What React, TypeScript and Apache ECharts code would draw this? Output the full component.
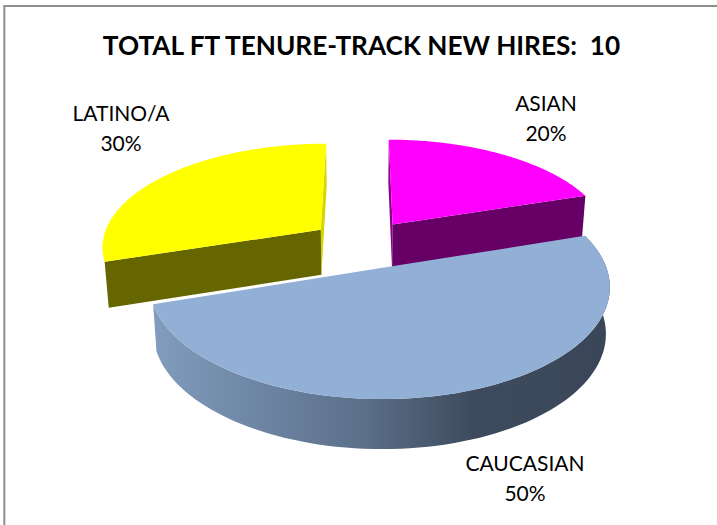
import React, { useEffect, useRef } from "react";
import * as echarts from "echarts";

const titleText = "TOTAL FT TENURE-TRACK NEW HIRES:  10";
const categories = ["ASIAN", "CAUCASIAN", "LATINO/A"];
const shares = [20, 50, 30];
const topColors = ["#ff00ff", "#92b0d6", "#ffff00"];
const faceColors = ["#660066", "#3c4a5c", "#666600"];
const edgeColors = ["#8a008a", "#3c4a5c", "#d6d600"];
const drawOrder = [0, 2, 1];
const labelCentres: number[][] = [
  [546, 117],
  [525, 477],
  [121, 127],
];

// projection of the tilted pie (perspective on the depth axis)
const PX = 362.5;
const P = 0.15;
const EXPLODE = 0.24;
const TOP = { a: 219.5, b: 103, y0: 244 };
const BOT = { a: 216, b: 106, y0: 289.5 };
const START_DEG = 90;

function project(X: number, Y: number, plane: { a: number; b: number; y0: number }) {
  const s = 1 / (1 - P * Y);
  return [PX + plane.a * X * s, plane.y0 + plane.b * Y * s];
}

const total = shares.reduce((a, b) => a + b, 0);
function sliceAngles(i: number) {
  let before = 0;
  for (let k = 0; k < i; k++) before += shares[k];
  const a0 = START_DEG - (before / total) * 360;
  const a1 = a0 - (shares[i] / total) * 360;
  return [a0, a1];
}

function buildSlice(i: number) {
  const [a0, a1] = sliceAngles(i);
  const mid = (((a0 + a1) / 2) * Math.PI) / 180;
  const ox = EXPLODE * Math.cos(mid);
  const oy = -EXPLODE * Math.sin(mid);
  const rim = (deg: number, plane: typeof TOP) => {
    const r = (deg * Math.PI) / 180;
    return project(ox + Math.cos(r), oy - Math.sin(r), plane);
  };
  const apex = (plane: typeof TOP) => project(ox, oy, plane);
  const steps = 90;
  const arc = (plane: typeof TOP) => {
    const pts: number[][] = [];
    for (let k = 0; k <= steps; k++) pts.push(rim(a0 + ((a1 - a0) * k) / steps, plane));
    return pts;
  };
  const topArc = arc(TOP);
  const botArc = arc(BOT);
  const children: any[] = [];
  const poly = (points: number[][], fill: any) => ({
    type: "polygon",
    shape: { points },
    style: { fill },
  });
  if (i === 1) {
    const wall = new echarts.graphic.LinearGradient(
      150,
      0,
      612,
      0,
      [
        { offset: 0, color: "#829dbf" },
        { offset: 0.22, color: "#6f87a6" },
        { offset: 0.47, color: "#5a6e87" },
        { offset: 0.7, color: "#3e4b5e" },
        { offset: 1, color: "#3a4658" },
      ],
      true
    );
    children.push(poly([...topArc, ...botArc.slice().reverse()], wall));
  } else {
    // the thin wall along the 12 o'clock edge, and the broad wall along the other edge
    const thin = i === 0 ? a0 : a1;
    const broad = i === 0 ? a1 : a0;
    children.push(poly([rim(thin, TOP), apex(TOP), apex(BOT), rim(thin, BOT)], edgeColors[i]));
    children.push(poly([rim(broad, TOP), apex(TOP), apex(BOT), rim(broad, BOT)], faceColors[i]));
  }
  children.push(poly([apex(TOP), ...topArc], topColors[i]));
  return children;
}

const labelFont = '"Lato", "Carlito", sans-serif';

export default function App() {
  const ref = useRef<HTMLDivElement>(null);
  useEffect(() => {
    if (!ref.current) return;
    const chart = echarts.init(ref.current, undefined, { renderer: "svg" });
    chart.setOption({
      animation: false,
      backgroundColor: "#ffffff",
      title: {
        text: titleText,
        left: 356.5,
        top: 27,
        textAlign: "center",
        textStyle: { fontFamily: labelFont, fontWeight: "bold", fontSize: 26.2, color: "#000000" },
      },
      graphic: [
        {
          type: "polyline",
          shape: { points: [[4.3, 525], [4.3, 6], [717, 6]] },
          style: { stroke: "#8e8e8e", lineWidth: 2, fill: "none" },
          silent: true,
        },
      ],
      series: [
        {
          type: "custom",
          coordinateSystem: "none",
          data: drawOrder.map((i) => ({ name: categories[i], value: [i, shares[i]] })),
          renderItem: (_params: any, api: any) => {
            const i = api.value(0) as number;
            const [lx, ly] = labelCentres[i];
            return {
              type: "group",
              children: [
                ...buildSlice(i),
                {
                  type: "text",
                  x: lx,
                  y: ly,
                  style: {
                    text: `${categories[i]}\n${api.value(1)}%`,
                    fontFamily: labelFont,
                    fontSize: 21,
                    lineHeight: 30,
                    fill: "#000000",
                    align: "center",
                    verticalAlign: "middle",
                  },
                },
              ],
            };
          },
        },
      ],
    });
    return () => chart.dispose();
  }, []);
  return <div ref={ref} style={{ position: "absolute", left: 0, top: 0, width: 717, height: 525 }} />;
}
